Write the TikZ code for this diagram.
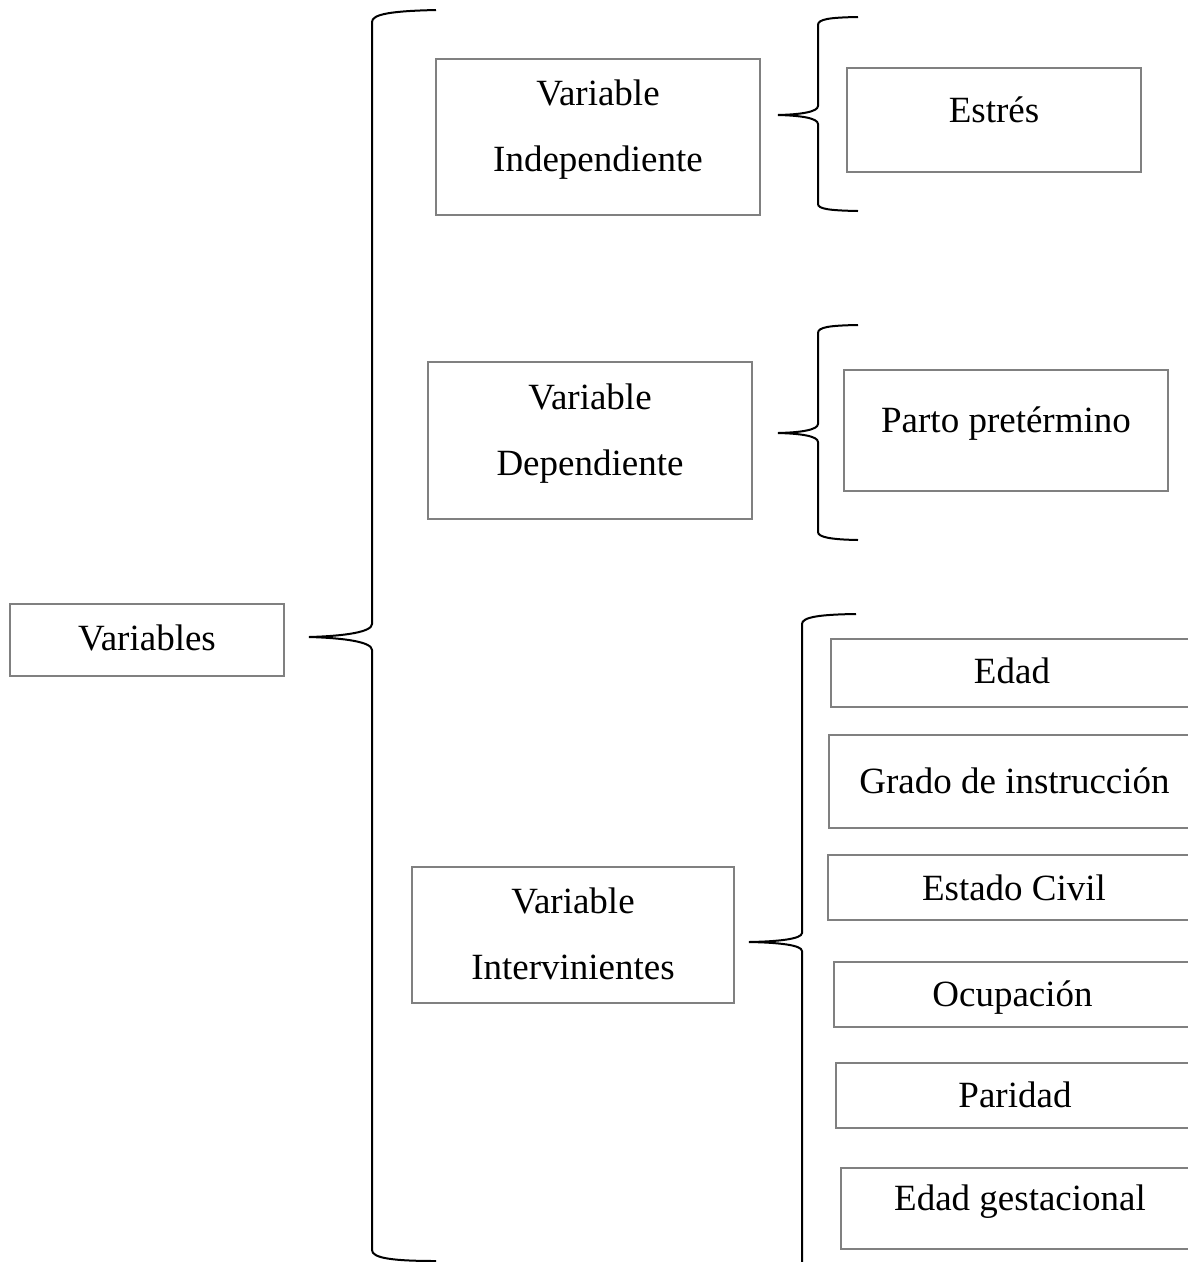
\documentclass[tikz,border=0pt]{standalone}
\usepackage{fontspec}
\setmainfont{Liberation Serif}
\begin{document}
\begin{tikzpicture}[x=1pt,y=-1pt,
  boxline/.style={draw=black!50,line width=2pt},
  braceline/.style={draw=black,line width=2pt},
  lbl/.style={anchor=base,inner sep=0pt,font=\fontsize{37}{44}\selectfont}]
\useasboundingbox (0,0) rectangle (1188,1262);
\fill[white] (0,0) rectangle (1188,1262);

% boxes
\draw[boxline] (9.5,604) rectangle (284,675.5);
\draw[boxline] (436,58.5) rectangle (760,215);
\draw[boxline] (847,68) rectangle (1141,172);
\draw[boxline] (428,362) rectangle (752,519);
\draw[boxline] (844,370) rectangle (1168,491);
\draw[boxline] (412,867) rectangle (734,1003);
\draw[boxline] (1188,639) -- (831,639) -- (831,706.5) -- (1188,706.5);
\draw[boxline] (1188,735) -- (828.5,735) -- (828.5,828) -- (1188,828);
\draw[boxline] (1188,854.5) -- (828,854.5) -- (828,920) -- (1188,920);
\draw[boxline] (1188,962) -- (833.5,962) -- (833.5,1027) -- (1188,1027);
\draw[boxline] (1188,1063) -- (836,1063) -- (836,1128) -- (1188,1128);
\draw[boxline] (1188,1168) -- (841,1168) -- (841,1249) -- (1188,1249);

% texts
\node[lbl] (vars) at (147,650) {Variables};
\node[lbl] (vi1) at (598,105.5) {Variable};
\node[lbl] (vi2) at (598,171.5) {Independiente};
\node[lbl] (estres) at (994,122) {Estrés};
\node[lbl] (vd1) at (590,409.5) {Variable};
\node[lbl] (vd2) at (590,475.5) {Dependiente};
\node[lbl] (parto) at (1006,432) {Parto pretérmino};
\node[lbl] (vn1) at (573,913) {Variable};
\node[lbl] (vn2) at (573,979) {Intervinientes};
\node[lbl] (edad) at (1012,683) {Edad};
\node[lbl] (grado) at (1014.5,793) {Grado de instrucción};
\node[lbl] (civil) at (1014,900) {Estado Civil};
\node[lbl] (ocup) at (1012.5,1006) {Ocupación};
\node[lbl] (parid) at (1015,1107.5) {Paridad};
\node[lbl] (gest) at (1020,1210.5) {Edad gestacional};

% big brace
\draw[braceline] (436,10) .. controls (392,11) and (372,14) .. (372,22)
  -- (372,624) .. controls (372,632) and (345,636) .. (309,637)
  .. controls (345,638) and (372,642) .. (372,650)
  -- (372,1250) .. controls (372,1258) and (392,1261) .. (436,1261);

% brace 1
\draw[braceline] (858,17) .. controls (830,17.5) and (818,19) .. (818,25)
  -- (818,106) .. controls (818,112) and (800,114.5) .. (778,115)
  .. controls (800,115.5) and (818,118) .. (818,124)
  -- (818,204) .. controls (818,209) and (830,210.5) .. (858,211);

% brace 2
\draw[braceline] (858,325) .. controls (830,325.5) and (818,327) .. (818,333)
  -- (818,424) .. controls (818,430) and (800,432.5) .. (778,433)
  .. controls (800,433.5) and (818,436) .. (818,442)
  -- (818,532) .. controls (818,537) and (830,539.5) .. (858,540);

% brace 3
\draw[braceline] (856,614) .. controls (820,614.5) and (802,617) .. (802,624)
  -- (802,933) .. controls (802,939) and (778,941.5) .. (749,942)
  .. controls (778,942.5) and (802,945) .. (802,951)
  -- (802,1262);
\end{tikzpicture}
\end{document}
